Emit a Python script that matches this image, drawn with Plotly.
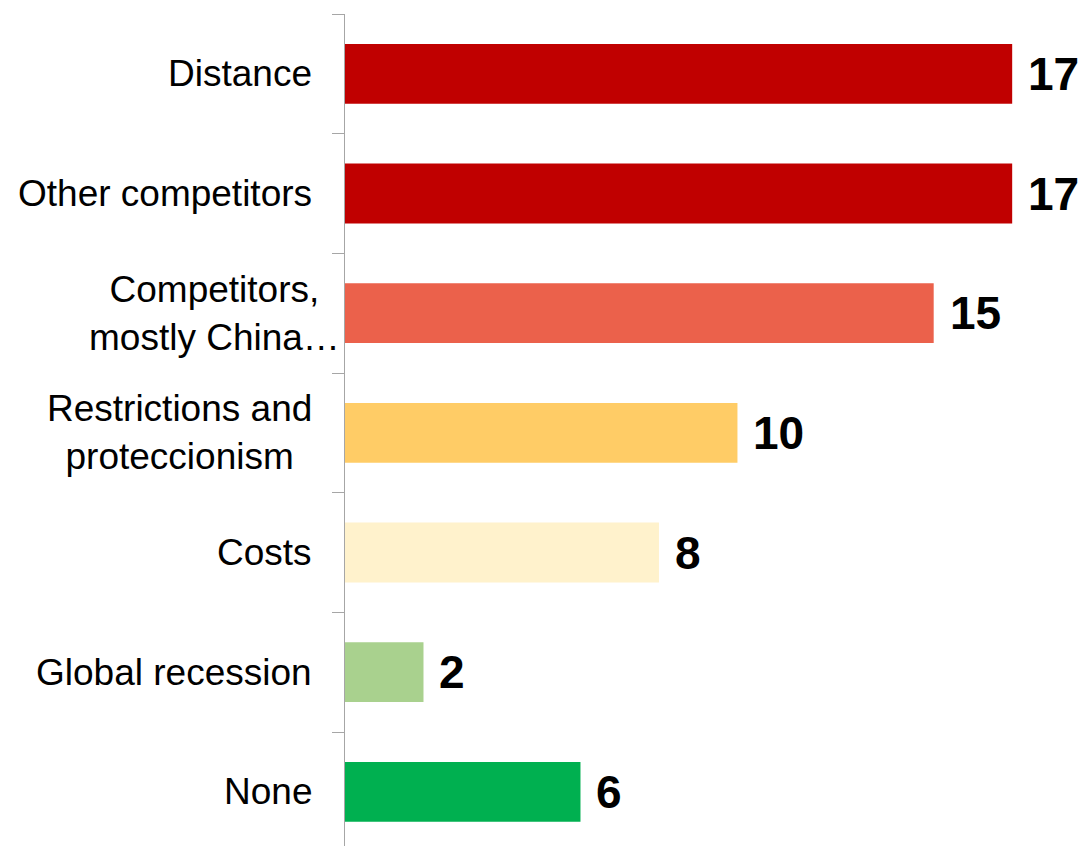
import plotly.graph_objects as go

# Survey responses: main obstacles
categories = [
    "Distance",
    "Other competitors",
    "Competitors,<br>mostly China…",
    "Restrictions and<br>proteccionism",
    "Costs",
    "Global recession",
    "None",
]
values = [17, 17, 15, 10, 8, 2, 6]
colors = ["#C00000", "#C00000", "#EB614B", "#FFCC66", "#FFF2CC", "#A9D18E", "#00B050"]

positions = list(range(len(categories)))

fig = go.Figure()
fig.add_trace(go.Bar(
    x=values,
    y=positions,
    orientation="h",
    width=0.5,
    marker=dict(color=colors, line=dict(width=0)),
    hoverinfo="skip",
))

font_family = "Liberation Sans, Arial, sans-serif"

# Category labels, centred per line and right-aligned to the axis;
# a truncated label (ending in an ellipsis) overflows toward the axis
for pos, label in zip(positions, categories):
    shift = -31 + (28 if label.endswith("…") else 0)
    fig.add_annotation(
        x=0, y=pos, xref="x", yref="y",
        text=label, showarrow=False,
        xanchor="right", yanchor="middle", align="center",
        xshift=shift,
        font=dict(family=font_family, size=37, color="#000000"),
    )

# Value labels beside each bar
for pos, val in zip(positions, values):
    fig.add_annotation(
        x=val, y=pos, xref="x", yref="y",
        text=f"<b>{val}</b>", showarrow=False,
        xanchor="left", yanchor="middle",
        xshift=14,
        font=dict(family=font_family, size=46, color="#000000"),
    )

n = len(categories)
fig.update_layout(
    width=1084,
    height=846,
    margin=dict(l=345, r=0, t=14, b=0),
    paper_bgcolor="white",
    plot_bgcolor="white",
    showlegend=False,
    xaxis=dict(
        range=[0, 18.83],
        visible=False,
        fixedrange=True,
    ),
    yaxis=dict(
        range=[n - 0.5476, -0.5],
        tickmode="array",
        tickvals=[i - 0.5 for i in range(n + 1)],
        ticktext=[""] * (n + 1),
        showticklabels=False,
        ticks="outside",
        ticklen=12,
        tickwidth=1.3,
        tickcolor="#A6A6A6",
        showline=True,
        linecolor="#A6A6A6",
        linewidth=1.3,
        showgrid=False,
        zeroline=False,
        fixedrange=True,
    ),
)

fig.write_html("out.html")
